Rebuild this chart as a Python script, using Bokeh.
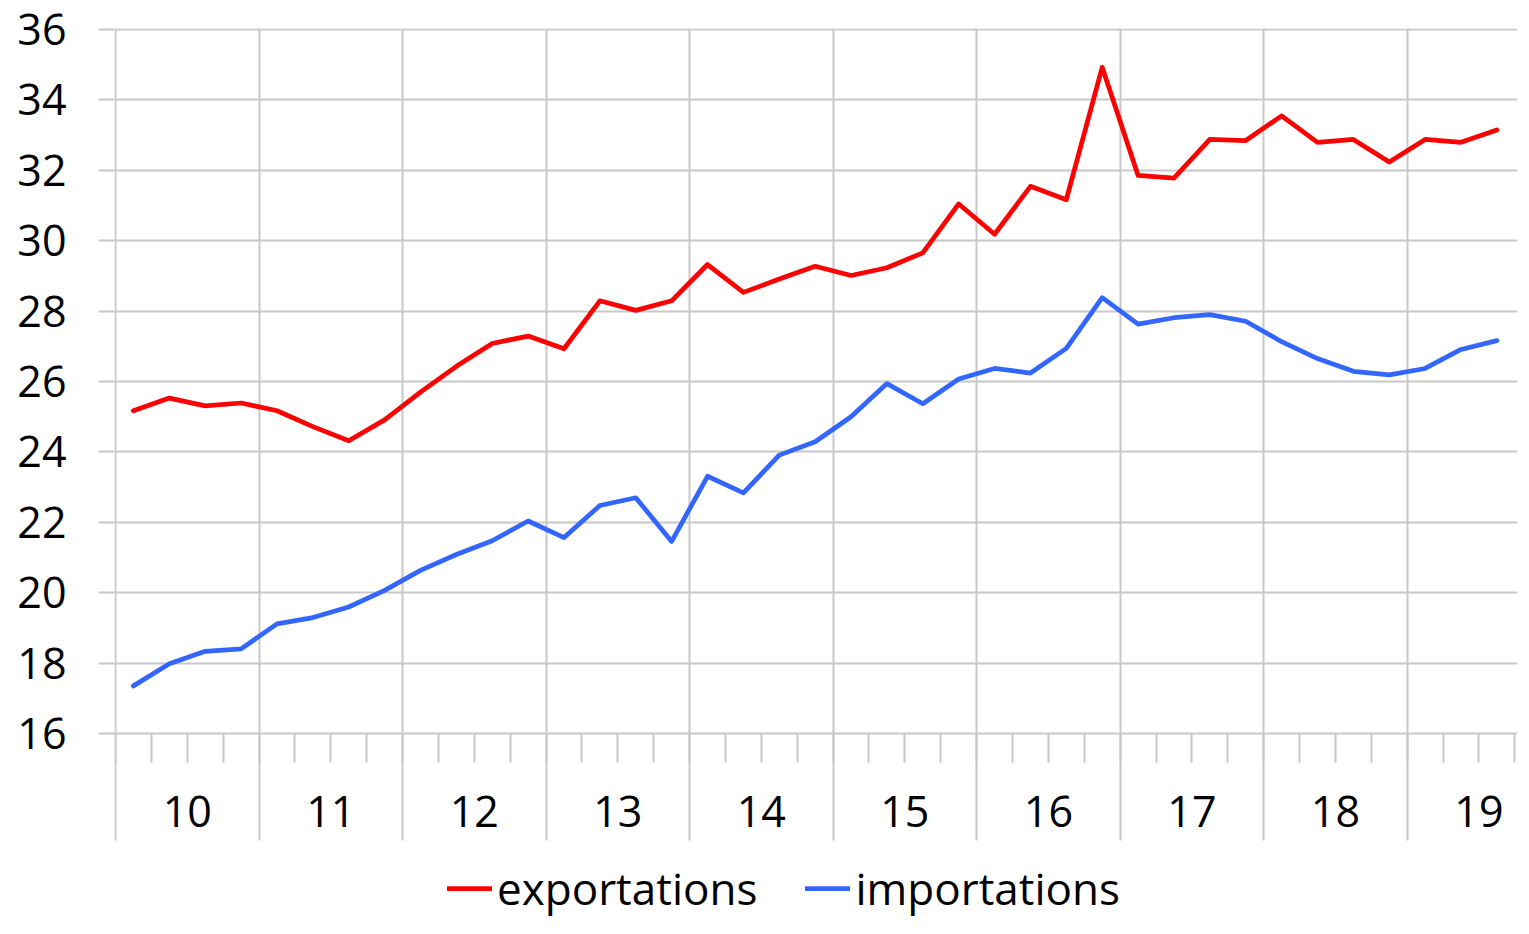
from bokeh.plotting import figure
from bokeh.models import Range1d, FixedTicker, Legend, LegendItem, Grid
from bokeh.core.properties import value
from bokeh.embed import file_html
from bokeh.resources import INLINE
import numpy as np

# ---- data ----
year_labels = ["10", "11", "12", "13", "14", "15", "16", "17", "18", "19"]
quarters_per_year = 4
exportations = [25.17, 25.53, 25.31, 25.39, 25.17, 24.72, 24.32, 24.91,
                25.70, 26.43, 27.08, 27.29, 26.93, 28.29, 28.02, 28.29,
                29.32, 28.53, 28.91, 29.27, 29.01, 29.23, 29.65, 31.04,
                30.18, 31.54, 31.16, 34.92, 31.85, 31.77, 32.87, 32.84,
                33.54, 32.79, 32.87, 32.23, 32.87, 32.79, 33.14]
importations = [17.36, 17.99, 18.34, 18.41, 19.12, 19.30, 19.60, 20.07,
                20.64, 21.09, 21.48, 22.04, 21.57, 22.48, 22.70, 21.46,
                23.31, 22.84, 23.91, 24.29, 25.00, 25.94, 25.37, 26.07,
                26.37, 26.24, 26.94, 28.38, 27.63, 27.81, 27.90, 27.71,
                27.13, 26.65, 26.29, 26.19, 26.37, 26.91, 27.16]
y_ticks = list(range(16, 37, 2))

FONT = "Open Sans"
GRID = "#c8c8c8"
FS = "43px"

# ---- layout constants (pixels -> data units) ----
W, H = 1517, 918
BORDER_L, BORDER_T = 114, 28
PX = 35.23            # pixels per y unit
QX = 35.88            # pixels per quarter
Y_MIN = 16
Y_TOP = 36.02
X_START = -0.028
y_start = Y_TOP - (H - BORDER_T) / PX
x_end = X_START + (W - BORDER_L) / QX
sep_bottom = Y_MIN - 107 / PX      # year separators end
tick_bottom = Y_MIN - 29 / PX      # quarter ticks end
label_y = Y_MIN - 78 / PX          # year labels

x = np.arange(len(exportations)) + 0.5
n_years = len(year_labels)
year_bounds = [i * quarters_per_year for i in range(n_years + 1)]
year_centers = [i * quarters_per_year + quarters_per_year / 2 for i in range(n_years)]
quarter_bounds = list(range(0, n_years * quarters_per_year + 1))

p = figure(width=W, height=H, output_backend="svg", toolbar_location=None,
           x_range=Range1d(X_START, x_end), y_range=Range1d(y_start, Y_TOP),
           x_axis_location=None,
           min_border_left=BORDER_L, min_border_right=0, min_border_top=BORDER_T,
           min_border_bottom=0)
p.outline_line_color = None
p.background_fill_color = "white"
p.border_fill_color = "white"

# grids
p.xgrid.ticker = FixedTicker(ticks=year_bounds)
p.xgrid.cross_bounds = (sep_bottom, Y_TOP)
p.ygrid.ticker = FixedTicker(ticks=y_ticks)
for g in (p.xgrid, p.ygrid):
    g.grid_line_color = GRID
    g.grid_line_width = 2

qgrid = Grid(dimension=0, ticker=FixedTicker(ticks=quarter_bounds),
             cross_bounds=(tick_bottom, Y_MIN),
             grid_line_color=GRID, grid_line_width=2)
p.add_layout(qgrid)

# y axis
ya = p.yaxis[0]
ya.ticker = FixedTicker(ticks=y_ticks)
ya.major_tick_out = 16
ya.major_tick_in = 0
ya.minor_tick_line_color = None
ya.axis_line_color = None
ya.major_tick_line_color = GRID
ya.major_tick_line_width = 2
ya.major_label_standoff = 32
ya.major_label_text_font = FONT
ya.major_label_text_font_size = FS
ya.major_label_text_color = "black"

# year labels on the category axis
p.text(x=year_centers, y=[label_y] * n_years, text=year_labels,
       text_align="center", text_baseline="middle",
       text_font=value(FONT), text_font_size=value(FS), text_color="black")

r1 = p.line(x, exportations, line_color="#ff0000", line_width=4.75,
            line_join="round", line_cap="round")
r2 = p.line(x, importations, line_color="#3366ff", line_width=4.75,
            line_join="round", line_cap="round")

legend = Legend(items=[LegendItem(label="exportations", renderers=[r1]),
                       LegendItem(label="importations", renderers=[r2])],
                orientation="horizontal", location=(333, 0),
                glyph_width=45, glyph_height=20, label_standoff=5, spacing=48,
                padding=0, margin=0, border_line_color=None,
                background_fill_alpha=0,
                label_text_font=FONT, label_text_font_size="44px",
                label_text_color="black")
p.add_layout(legend)

open("out.html", "w").write(file_html(p, INLINE))
